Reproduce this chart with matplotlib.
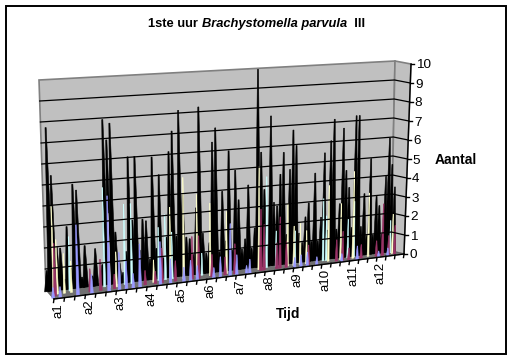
import numpy as np
import matplotlib
matplotlib.use('Agg')
import matplotlib.pyplot as plt

plt.rcParams['font.family'] = ['Liberation Sans', 'DejaVu Sans']

labels = ['a1', 'a2', 'a3', 'a4', 'a5', 'a6', 'a7', 'a8', 'a9', 'a10', 'a11', 'a12']
y_ticks = [0, 1, 2, 3, 4, 5, 6, 7, 8, 9, 10]

# nine readings per label, series from back to front
black = [1, 7.8, 5.5, 2.1, 2, .5, 3, 1, 5,
         4.7, .5, 2, 0, .5, 1.8, 0, 1, 8,
         7, 7.8, 2.5, 1, .5, 1.5, 6.1, 3, 6.1,
         1.5, 3, 2.9, 1, 6, 1.5, 5.1, 1, 2,
         6.2, 7.2, 2, 8.2, 4, 1.9, 1.8, 1, 3.3,
         8.3, 2, 1, 1.5, 6.5, 7.2, 1, 4, 1.5,
         6, 1, 5, 3.5, 1, 1.5, 4.2, 1, 2,
         10, 5.8, 3.9, 1, 7.6, 3.2, 3, 4.6, 5.7,
         1.5, 4.8, 6.8, 6, 1.5, 1, 2.3, 3, 1,
         4.5, 1, 2.2, 5.5, 1.5, 6.1, 7.2, 1.5, 2.8,
         6.7, 4.5, 3.6, 1.5, 7.3, 7.3, 1.5, 3.2, 1,
         5, 1, 3, 2.5, 1, 4, 6, 4.6, 3.4]
cyan = [0, 0, 0, 0, 0, 0, 2.6, 0, 0,
        0, 0, 0, 0, 0, 0, 0, 4.8, 0,
        0, 0, 0, 0, 3.9, 0, 3.9, 0, 0,
        0, 0, 0, 0, 0, 2.6, 0, 3.2, 0,
        2.3, 0, 0, 0, 0, 0, 0, 0, 0,
        1.1, 0, 0, 0, 0, 0, 0, 0, 0,
        0, 0, 0, 0, 0, 0, 0, 0, 0,
        0, 0, 4.6, 0, 0, 1.8, 0, 0, 0,
        0, 0, 1.7, 0, 0, 0, 0, 0, 0,
        0, 0, 3.2, 2.3, 0, 0, 0, 0, 0,
        0, 2, 0, 2.9, 0, 0, 0, 0, 0,
        0, 0, 0, 0, 0, 0, 1.7, 0, 0]
yellow = [0, 4.2, 2.6, 0, 1.9, 0, 1.5, 0, 0,
          0, 0, 0, 0, 0, 0, 0, 0, 3.6,
          0, 1.7, 0, 0, 0, 0, 0, 0, 0,
          0, 0, 0, 1.1, 0, 0, 0, 0, 3.6,
          0, 0, 0, 5, 0, 0, 0, 4.1, 0,
          0, 0, 3.6, 0, 0, 0, 0, 3.1, 0,
          0, 0, 0, 0, 0, 0, 0, 0, 5.2,
          0, 0, 0, 0, 0, 0, 0, 0, 3.2,
          0, 2, 0, 2.1, 0, 1.7, 0, 0, 0,
          0, 0, 0, 3.9, 0, 0, 0, 2.9, 0,
          0, 0, 4.5, 0, 0, 0, 0, 3.3, 0,
          0, 0, 0, 0, 0, 0, 2.1, 0, 0]
maroon = [0, 2.5, 0, 0, 0, 0, 0, 0, 0,
          0, 0, 1.1, 0, 0, 1.5, 0, 0, 0,
          .7, 0, 0, 0, 0, 0, 0, 0, 0,
          .7, 0, 0, .6, 0, 1.7, 0, 0, 0,
          1, 0, 0, 0, 0, 2.1, 0, 2.1, 0,
          0, 0, 1.1, 0, 0, 0, .9, 0, 0,
          1.5, 0, 0, 0, 0, 0, 0, 0, 3.1,
          2.3, 0, 0, 0, 1.3, 2.6, 0, 1.3, 0,
          0, 0, 0, 0, 0, 1, 0, 0, 0,
          0, 0, 0, 0, 0, 1.1, 0, 1.5, 0,
          .6, 0, 0, 0, .7, 0, 0, 0, 0,
          .8, 0, 2.7, 0, 1, 0, 1.5, 0, 0]
blue = [.5, 0, .5, 0, 0, 0, 0, 3.4, 0,
        0, 0, .9, 0, 0, 0, 0, 4.6, 0,
        0, 1.8, 0, 1.4, 0, .7, 0, 2.1, 0,
        0, 0, 0, 0, 2.1, 0, 0, 1.2, 0,
        0, 0, .7, 0, 1, 0, .7, 0, 0,
        0, 0, .5, 0, 1, 0, 0, 2.6, 0,
        1, 0, 0, .4, .7, 0, 0, 0, 0,
        0, 0, 0, 0, 0, 0, 0, 0, 0,
        .5, 0, .6, 0, .7, 0, 0, .4, 0,
        0, 0, 0, 0, 0, 0, .4, 0, 0,
        0, 0, .7, 0, 0, 0, 0, 0, 0,
        .3, 0, 0, .4, 0, 0, 0, 0, 0]

series = [(black, '#000000', .18, .8), (cyan, '#CCFFFF', .38, .3), (yellow, '#FFFFCC', .55, .3),
          (maroon, '#993366', .72, .42), (blue, '#9999FF', .9, .42)]


def project(s, v, d):
    # s along the time axis 0-1, v the count, d depth 0 back wall - 1 front
    u = s * 1.086 / (1 + .086 * s)
    x0 = 46 + 345 * u
    y0 = 290 - 39 * u
    lean = -.7 + 1.1 * u + d * .3 * u
    px = 21 - 2 * u
    x = x0 + lean * v + d * (8 + 5 * u)
    y = y0 - px * v + d * (9 - 6 * u)
    return x, y


fig = plt.figure(figsize=(5.12, 3.59), dpi=100)
ax = fig.add_axes([0, 0, 1, 1])
ax.set_xlim(0, 512)
ax.set_ylim(359, 0)
ax.axis('off')

ax.add_patch(plt.Rectangle((5.5, 5.5), 500.5, 348.5, fill=False, ec='k', lw=1.4))

# back wall
wall = [project(0, 0, 0), project(0, 10, 0), project(1, 10, 0), project(1, 0, 0)]
ax.fill(*zip(*wall), fc='#C0C0C0', ec='#808080', lw=1.2)
# side wall
side = [project(1, 0, 0), project(1, 10, 0), project(1, 10, 1), project(1, 0, 1)]
ax.fill(*zip(*side), fc='#C0C0C0', ec='#808080', lw=1.2)
# floor
floor = [project(0, 0, 0), project(1, 0, 0), project(1, 0, 1), project(0, 0, 1)]
ax.fill(*zip(*floor), fc='#707070', ec='#606060', lw=.8)

for v in y_ticks[1:-1]:
    a = project(0, v, 0)
    b = project(1, v, 0)
    c = project(1, v, 1)
    ax.plot([a[0], b[0], c[0]], [a[1], b[1], c[1]], color='k', lw=.9)

n = len(black)
for vals, col, d, w in series:
    ds = w / (n - 1)
    for i, v in enumerate(vals):
        if v == 0:
            continue
        s = i / (n - 1)
        # narrow spike, wide at the floor and thin at its top
        x1, y1 = project(s - ds, 0, d)
        x2, y2 = project(s + ds, 0, d)
        x3, y3 = project(s + ds * .2, v, d)
        x4, y4 = project(s - ds * .2, v, d)
        ax.fill([x1, x2, x3, x4], [y1, y2, y3, y4], fc=col, ec=col, lw=.4)

# front edge and ticks
a = project(0, 0, 1)
b = project(1, 0, 1)
ax.plot([a[0], b[0]], [a[1], b[1]], color='k', lw=1)
for i in range(0, n + 1, 3):
    x, y = project(i / n, 0, 1)
    ax.plot([x, x - .5], [y, y + 3.5], color='k', lw=1)
for i, lab in enumerate(labels):
    x, y = project(9 * i / n, 0, 1)
    ax.text(x + 4, y + 4, lab, rotation=90, ha='center', va='top', fontsize=9.5)

# value axis
a = project(1, 0, 1)
b = project(1, 10, 1)
ax.plot([a[0], b[0]], [a[1], b[1]], color='k', lw=1)
for v in y_ticks:
    x, y = project(1, v, 1)
    ax.plot([x, x + 3], [y, y], color='k', lw=1)
    ax.text(x + 5, y + 1.5, str(v), ha='left', va='center', fontsize=9.7)

t1 = ax.text(148, 24, '1ste uur ', ha='left', va='center', fontsize=9.25, fontweight='bold')
t2 = ax.annotate('Brachystomella parvula', xy=(1, .5), xycoords=t1, ha='left', va='center',
                 fontsize=9.25, fontweight='bold', style='italic')
ax.annotate('  III', xy=(1, .5), xycoords=t2, ha='left', va='center', fontsize=9.25, fontweight='bold')
ax.text(455.5, 160, 'Aantal', ha='center', va='center', fontsize=10, fontweight='bold')
ax.text(288, 314, 'Tijd', ha='center', va='center', fontsize=10, fontweight='bold')

fig.savefig('out.png', dpi=100)
